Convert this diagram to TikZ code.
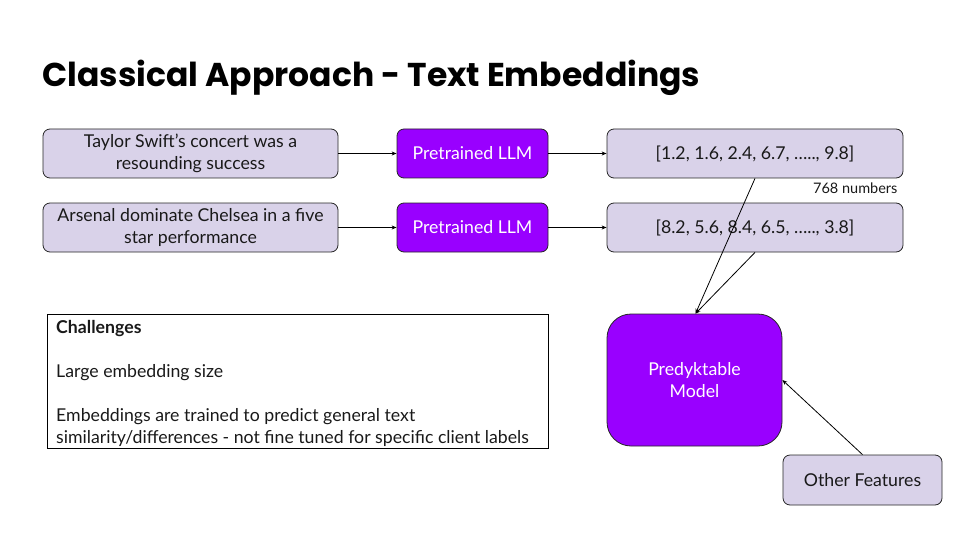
\documentclass[tikz,border=0pt]{standalone}
\usepackage{fontspec}
\setmainfont{Lato}
\newfontfamily\titlefont{Poppins}
\usetikzlibrary{arrows.meta}
\definecolor{lav}{HTML}{D9D2E9}
\definecolor{purp}{HTML}{9900FF}
\tikzset{
  x=1pt,y=-1pt,
  lbox/.style={draw=black!85,line width=0.8pt,rounded corners=7pt,fill=lav,align=center,font=\fontsize{17.7}{22}\selectfont,text=black!90},
  pbox/.style={draw=black!85,line width=0.8pt,rounded corners=7pt,fill=purp,align=center,font=\fontsize{17.7}{22}\selectfont,text=white},
  conn/.style={line width=0.8pt,-{Stealth[length=5pt,width=4pt]}},
}
\begin{document}
\begin{tikzpicture}
\useasboundingbox (0,0) rectangle (960,540);
\node[anchor=west,font=\titlefont\fontsize{33}{38}\selectfont\bfseries] (title) at (39,78) {Classical Approach - Text Embeddings};

\node[lbox,minimum width=295pt,minimum height=49pt] (in1) at (190.5,153.5) {Taylor Swift’s concert was a\\resounding success};
\node[lbox,minimum width=295pt,minimum height=49pt] (in2) at (190.5,227.5) {Arsenal dominate Chelsea in a five\\star performance};
\node[pbox,minimum width=151pt,minimum height=49pt] (llm1) at (472.5,153.5) {Pretrained LLM};
\node[pbox,minimum width=151pt,minimum height=49pt] (llm2) at (472.5,227.5) {Pretrained LLM};
\node[lbox,minimum width=296pt,minimum height=49pt] (emb1) at (755,153.5) {[1.2, 1.6, 2.4, 6.7, \ldots.., 9.8]};
\node[lbox,minimum width=296pt,minimum height=49pt] (emb2) at (755,227.5) {[8.2, 5.6, 8.4, 6.5, \ldots.., 3.8]};
\node[anchor=east,font=\fontsize{14.5}{16}\selectfont,text=black!90] (n768) at (901,188) {768 numbers};

\node[draw=black,line width=0.8pt,minimum width=501pt,minimum height=134pt,anchor=north west] (chal) at (47,314) {};
\node[anchor=north west,align=left,font=\fontsize{17.7}{22}\selectfont,text=black!90,inner sep=0pt] (chaltext) at (56,320)
  {\textbf{Challenges}\\[22pt]Large embedding size\\[22pt]Embeddings are trained to predict general text\\similarity/differences - not fine tuned for specific client labels};

\node[pbox,rounded corners=24pt,minimum width=175pt,minimum height=132pt] (model) at (694.5,380) {Predyktable\\Model};
\node[lbox,minimum width=159pt,minimum height=50pt] (other) at (862.5,480) {Other Features};

\draw[conn] (in1.east) -- (llm1.west);
\draw[conn] (llm1.east) -- (emb1.west);
\draw[conn] (in2.east) -- (llm2.west);
\draw[conn] (llm2.east) -- (emb2.west);
\coordinate (mtop) at ([xshift=1pt]model.north);
\draw[conn] (emb1.south) -- (mtop);
\draw[conn] (emb2.south) -- (mtop);
\draw[conn] (other.north) -- (model.east);
\end{tikzpicture}
\end{document}
